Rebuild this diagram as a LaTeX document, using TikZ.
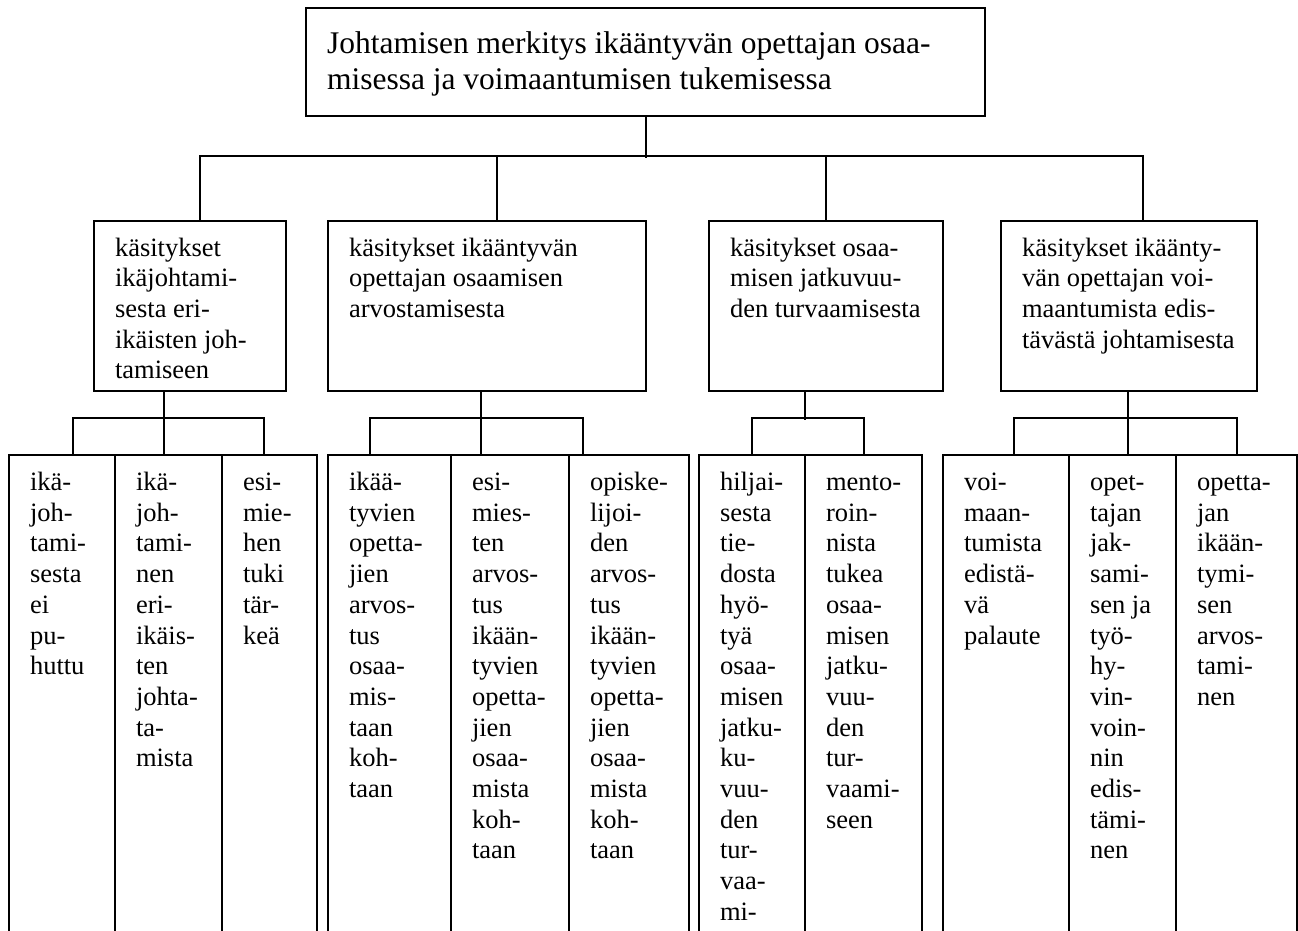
\documentclass[tikz,border=0pt]{standalone}
\usepackage{fontspec}
\setmainfont{Liberation Serif}
\usepackage{tikz}

\newcommand{\boxtext}[4]{\parbox[t][#2][t]{#1}{\raggedright\leftskip=21pt\hyphenpenalty=10000\relax\rule{0pt}{#3}#4}}
\tikzset{
  box/.style={draw, inner sep=0pt, anchor=north west, font=\fontsize{26.5}{30.7}\selectfont},
  rootbox/.style={box, font=\fontsize{31.5}{36}\selectfont}
}

\begin{document}
\begin{tikzpicture}[x=1pt, y=-1pt, line width=2pt]
    \useasboundingbox (0,0) rectangle (1298,930);
    \clip (0,0) rectangle (1298,930);
    \node[rootbox] (root) at (305,7) {\boxtext{679pt}{108pt}{45pt}{Johtamisen merkitys ikääntyvän opettajan osaa-\\misessa ja voimaantumisen tukemisessa}};
    \node[box] (kA) at (93,220) {\boxtext{192pt}{170pt}{35pt}{käsitykset\\ikäjohtami-\\sesta eri-\\ikäisten joh-\\tamiseen}};
    \node[box] (kB) at (327,220) {\boxtext{318pt}{170pt}{35pt}{käsitykset ikääntyvän\\opettajan osaamisen\\arvostamisesta}};
    \node[box] (kC) at (708,220) {\boxtext{234pt}{170pt}{35pt}{käsitykset osaa-\\misen jatkuvuu-\\den turvaamisesta}};
    \node[box] (kD) at (1000,220) {\boxtext{256pt}{170pt}{35pt}{käsitykset ikäänty-\\vän opettajan voi-\\maantumista edis-\\tävästä johtamisesta}};
    \node[box] (a1) at (8,454) {\boxtext{106pt}{510pt}{35.5pt}{ikä-\\joh-\\tami-\\sesta\\ei\\pu-\\huttu}};
    \node[box] (a2) at (114,454) {\boxtext{107pt}{510pt}{35.5pt}{ikä-\\joh-\\tami-\\nen\\eri-\\ikäis-\\ten\\johta-\\ta-\\mista}};
    \node[box] (a3) at (221,454) {\boxtext{95pt}{510pt}{35.5pt}{esi-\\mie-\\hen\\tuki\\tär-\\keä}};
    \node[box] (b1) at (327,454) {\boxtext{123pt}{510pt}{35.5pt}{ikää-\\tyvien\\opetta-\\jien\\arvos-\\tus\\osaa-\\mis-\\taan\\koh-\\taan}};
    \node[box] (b2) at (450,454) {\boxtext{118pt}{510pt}{35.5pt}{esi-\\mies-\\ten\\arvos-\\tus\\ikään-\\tyvien\\opetta-\\jien\\osaa-\\mista\\koh-\\taan}};
    \node[box] (b3) at (568,454) {\boxtext{120pt}{510pt}{35.5pt}{opiske-\\lijoi-\\den\\arvos-\\tus\\ikään-\\tyvien\\opetta-\\jien\\osaa-\\mista\\koh-\\taan}};
    \node[box] (c1) at (698,454) {\boxtext{106pt}{510pt}{35.5pt}{hiljai-\\sesta\\tie-\\dosta\\hyö-\\tyä\\osaa-\\misen\\jatku-\\ku-\\vuu-\\den\\tur-\\vaa-\\mi-}};
    \node[box] (c2) at (804,454) {\boxtext{117pt}{510pt}{35.5pt}{mento-\\roin-\\nista\\tukea\\osaa-\\misen\\jatku-\\vuu-\\den\\tur-\\vaami-\\seen}};
    \node[box] (d1) at (942,454) {\boxtext{126pt}{510pt}{35.5pt}{voi-\\maan-\\tumista\\edistä-\\vä\\palaute}};
    \node[box] (d2) at (1068,454) {\boxtext{107pt}{510pt}{35.5pt}{opet-\\tajan\\jak-\\sami-\\sen ja\\työ-\\hy-\\vin-\\voin-\\nin\\edis-\\tämi-\\nen}};
    \node[box] (d3) at (1175,454) {\boxtext{121pt}{510pt}{35.5pt}{opetta-\\jan\\ikään-\\tymi-\\sen\\arvos-\\tami-\\nen}};
    \draw ([xshift=0.5pt]root.south) -- ++(0,41);
    \draw ([xshift=10pt]kA.north) -- ++(0,-64) -| ([xshift=14pt]kD.north);
    \draw ([xshift=10pt]kB.north) -- ++(0,-64);
    \draw (kC.north) -- ++(0,-64);
    \draw ([xshift=-26pt]kA.south) -- ++(0,28);
    \draw ([xshift=11pt]a1.north) -- ++(0,-36) -| ([xshift=-5.5pt]a3.north);
    \draw ([xshift=-4.5pt]a2.north) -- ++(0,-36);
    \draw ([xshift=-6pt]kB.south) -- ++(0,28);
    \draw ([xshift=-19.5pt]b1.north) -- ++(0,-36) -| ([xshift=-46pt]b3.north);
    \draw ([xshift=-29pt]b2.north) -- ++(0,-36);
    \draw ([xshift=-21pt]kC.south) -- ++(0,28);
    \draw (c1.north) -- ++(0,-36) -| ([xshift=0.5pt]c2.north);
    \draw ([xshift=-1pt]kD.south) -- ++(0,28);
    \draw ([xshift=8pt]d1.north) -- ++(0,-36) -| ([xshift=0.5pt]d3.north);
    \draw ([xshift=5.5pt]d2.north) -- ++(0,-36);
\end{tikzpicture}
\end{document}
